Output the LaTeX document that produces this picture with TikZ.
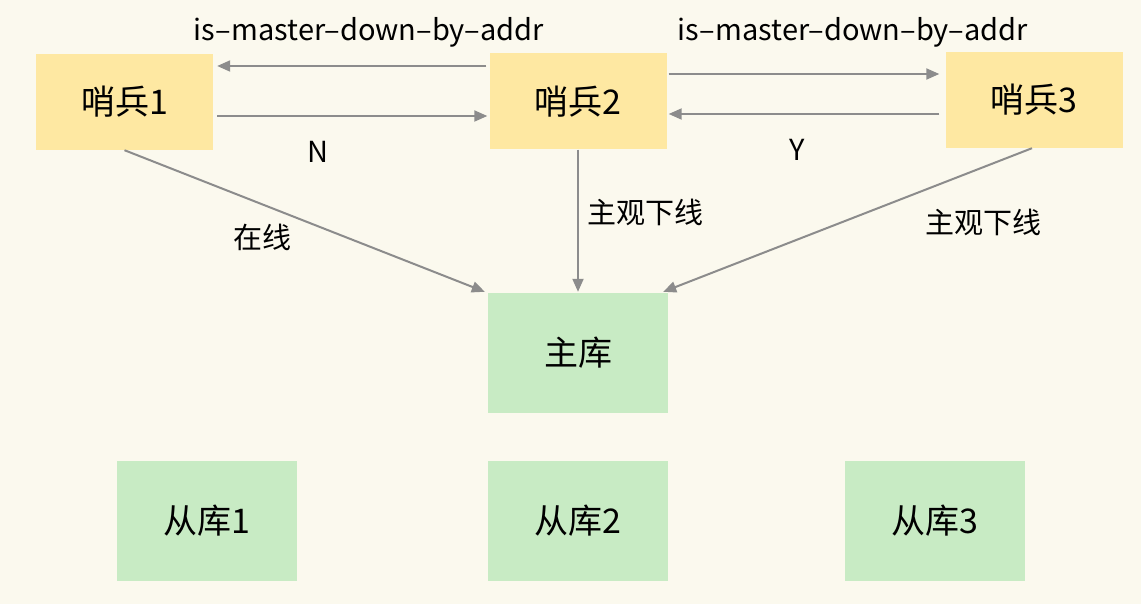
\documentclass[tikz,border=0pt]{standalone}
\usepackage{fontspec}
\setmainfont{Noto Sans CJK SC}
\usetikzlibrary{arrows.meta,calc}
\definecolor{bgc}{RGB}{251,249,238}
\definecolor{ybox}{RGB}{254,232,162}
\definecolor{gbox}{RGB}{200,235,196}
\definecolor{arrc}{RGB}{140,140,140}
\begin{document}
\begin{tikzpicture}[x=1pt,y=-1pt,
  sbox/.style={fill=ybox,draw=none,minimum width=177pt,minimum height=96pt,inner sep=0pt,font=\fontsize{34}{38}\selectfont},
  dbox/.style={fill=gbox,draw=none,minimum width=180pt,minimum height=120pt,inner sep=0pt,font=\fontsize{34}{38}\selectfont},
  arr/.style={draw=arrc,line width=2pt,-{Triangle[length=13pt,width=11pt]}},
  lbl/.style={font=\fontsize{29}{33}\selectfont,inner sep=0pt}]
\fill[bgc] (0,0) rectangle (1141,604);
\useasboundingbox (0,0) rectangle (1141,604);
\node[sbox] (s1) at (124.5,102) {哨兵1};
\node[sbox] (s2) at (578,101.5) {哨兵2};
\node[sbox] (s3) at (1034,100) {哨兵3};
\node[dbox] (m) at (578,353) {主库};
\node[dbox] (r1) at (207,521) {从库1};
\node[dbox] (r2) at (578,521) {从库2};
\node[dbox] (r3) at (934.5,521) {从库3};
\draw[arr] ([yshift=35.5pt,xshift=-3pt]s2.west) -- ([yshift=36pt,xshift=4pt]s1.east);
\draw[arr] ([yshift=-14pt,xshift=4pt]s1.east) -- ([yshift=-14.5pt,xshift=-2pt]s2.west);
\draw[arr] ([yshift=27.5pt,xshift=2pt]s2.east) -- ([yshift=26pt,xshift=-6pt]s3.west);
\draw[arr] ([yshift=-14pt,xshift=-6pt]s3.west) -- ([yshift=-12.5pt,xshift=2pt]s2.east);
\draw[arr] (s1.south) -- ([xshift=-3pt,yshift=1pt]m.north west);
\draw[arr] (s2.south) -- ([yshift=1pt]m.north);
\draw[arr] ([xshift=-2pt]s3.south) -- ([xshift=-5pt,yshift=1pt]m.north east);
\node[lbl] (t1) at (369,32) {is–master–down–by–addr};
\node[lbl] (t2) at (853,32) {is–master–down–by–addr};
\node[lbl] (tn) at (318,152) {N};
\node[lbl] (ty) at (797,150) {Y};
\node[lbl] (tz) at (262,237) {在线};
\node[lbl] (tk2) at (645,212) {主观下线};
\node[lbl] (tk3) at (983,222) {主观下线};
\end{tikzpicture}
\end{document}
